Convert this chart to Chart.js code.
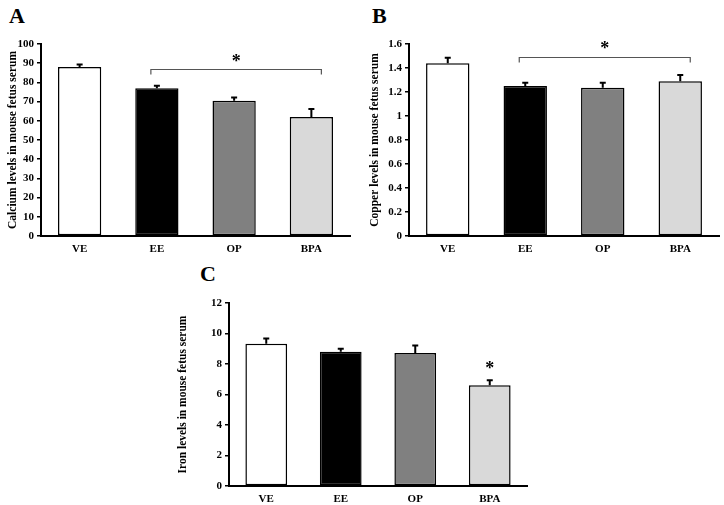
<!DOCTYPE html>
<html lang="en">
<head>
    <meta charset="UTF-8">
    <title>Mineral levels in mouse fetus serum</title>
    <script src="https://cdn.jsdelivr.net/npm/chart.js"></script>
    <style>
        body {
            margin: 0;
            width: 724px;
            height: 505px;
            position: relative;
            background: #fff;
            font-family: "Liberation Serif", "Times New Roman", serif;
        }
        .panel { position: absolute; }
        .letter {
            position: absolute;
            font-weight: bold;
            font-size: 22px;
            line-height: 1;
        }
    </style>
</head>
<body>

<div class="letter" style="left:9px; top:5px;">A</div>
<div class="letter" style="left:372px; top:5px;">B</div>
<div class="letter" style="left:200px; top:263px;">C</div>

<div class="panel" style="left:0; top:0; width:360px; height:260px;"><canvas id="chartA"></canvas></div>
<div class="panel" style="left:362px; top:0; width:362px; height:260px;"><canvas id="chartB"></canvas></div>
<div class="panel" style="left:170px; top:250px; width:370px; height:255px;"><canvas id="chartC"></canvas></div>

<script>
    // groups
    const groups = ['VE', 'EE', 'OP', 'BPA'];
    const barColors = ['#ffffff', '#000000', '#808080', '#d9d9d9'];

    // calcium
    const calcium = [88, 77, 70.5, 62];
    const calciumErr = [1.3, 1.2, 1.6, 4.2];

    // copper
    const copper = [1.44, 1.25, 1.235, 1.29];
    const copperErr = [0.045, 0.027, 0.042, 0.052];

    // iron
    const iron = [9.33, 8.81, 8.72, 6.6];
    const ironErr = [0.35, 0.19, 0.5, 0.33];

    const serif = '"Liberation Serif", "Times New Roman", serif';

    // draws the upward error bars, the bracket and the star
    const extrasPlugin = {
        id: 'extras',
        afterDatasetsDraw(chart) {
            const opts = chart.options.plugins.extras;
            const x = chart.scales.x, y = chart.scales.y;
            const ctx = chart.ctx;
            const vals = chart.data.datasets[0].data;
            ctx.save();
            ctx.strokeStyle = '#000';
            ctx.lineWidth = 2;
            vals.forEach((v, i) => {
                const px = x.getPixelForValue(i);
                const y0 = y.getPixelForValue(v);
                const y1 = y.getPixelForValue(v + opts.err[i]);
                ctx.beginPath();
                ctx.moveTo(px, y0);
                ctx.lineTo(px, y1);
                ctx.moveTo(px - 3, y1);
                ctx.lineTo(px + 3, y1);
                ctx.stroke();
            });
            let starX;
            if (opts.bracket) {
                const b = opts.bracket;
                const x0 = x.getPixelForValue(b.from) - 6;
                const x1 = x.getPixelForValue(b.to) + 10;
                const by = Math.round(y.getPixelForValue(b.y)) + 0.5;
                ctx.strokeStyle = '#555';
                ctx.lineWidth = 1.2;
                ctx.beginPath();
                ctx.moveTo(x0, by + 5);
                ctx.lineTo(x0, by);
                ctx.lineTo(x1, by);
                ctx.lineTo(x1, by + 5);
                ctx.stroke();
                starX = (x0 + x1) / 2;
            } else {
                starX = x.getPixelForValue(opts.star.at);
            }
            ctx.fillStyle = '#000';
            ctx.font = 'bold 18px ' + serif;
            ctx.textAlign = 'center';
            ctx.textBaseline = 'middle';
            ctx.fillText('*', starX, y.getPixelForValue(opts.star.y) + 4);
            ctx.restore();
        }
    };

    function makeChart(id, values, err, yTitle, yMax, yStep, box, extras) {
        return new Chart(document.getElementById(id), {
            type: 'bar',
            data: {
                labels: groups,
                datasets: [{
                    data: values,
                    backgroundColor: barColors,
                    borderColor: '#000',
                    borderWidth: 1.5,
                    borderSkipped: false,
                    categoryPercentage: 1,
                    barPercentage: 0.56
                }]
            },
            options: {
                responsive: true,
                maintainAspectRatio: false,
                animation: false,
                layout: { padding: { left: 0, top: box.top, right: box.right, bottom: 0 } },
                plugins: {
                    legend: { display: false },
                    tooltip: { enabled: false },
                    extras: Object.assign({ err: err }, extras)
                },
                scales: {
                    x: {
                        grid: { display: false, drawTicks: false },
                        border: { display: true, color: '#000', width: 2 },
                        ticks: { color: '#000', padding: 7, font: { family: serif, size: 11, weight: 'bold' } },
                        afterFit(s) { s.height = box.bottom; }
                    },
                    y: {
                        min: 0,
                        max: yMax,
                        grid: { display: true, drawOnChartArea: false, drawTicks: true, tickLength: 4, color: '#000', lineWidth: 1.5 },
                        border: { display: true, color: '#000', width: 2 },
                        ticks: {
                            stepSize: yStep,
                            color: '#000',
                            padding: 3,
                            font: { family: serif, size: 11, weight: 'bold' },
                            callback: (v) => String(+v.toFixed(1))
                        },
                        title: {
                            display: true,
                            text: yTitle,
                            color: '#000',
                            padding: { top: 6, bottom: 0 },
                            font: { family: serif, size: 11.5, weight: 'bold' }
                        },
                        afterFit(s) { s.width = box.left; }
                    }
                }
            },
            plugins: [extrasPlugin]
        });
    }

    makeChart('chartA', calcium, calciumErr, 'Calcium levels in mouse fetus serum', 100, 10,
        { left: 41, top: 44, right: 10, bottom: 24 },
        { bracket: { from: 1, to: 3, y: 87 }, star: { y: 92.7 } });

    makeChart('chartB', copper, copperErr, 'Copper levels in mouse fetus serum', 1.6, 0.2,
        { left: 47, top: 44, right: 5, bottom: 24 },
        { bracket: { from: 1, to: 3, y: 1.49 }, star: { y: 1.59 } });

    makeChart('chartC', iron, ironErr, 'Iron levels in mouse fetus serum', 12, 2,
        { left: 59, top: 53, right: 13, bottom: 19 },
        { star: { at: 3, y: 7.93 } });
</script>

</body>
</html>
